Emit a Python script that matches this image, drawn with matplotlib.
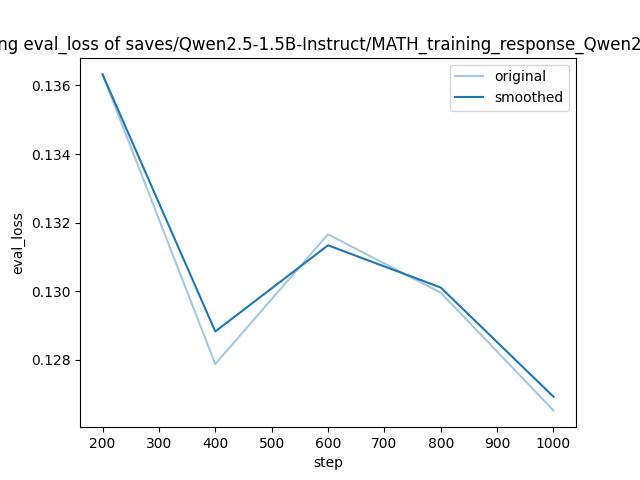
import matplotlib
matplotlib.use("Agg")
import matplotlib.pyplot as plt

steps = [200, 400, 600, 800, 1000]
original = [0.13632, 0.12788, 0.13166, 0.12996, 0.12653]
smoothed = [0.13632, 0.12883, 0.13134, 0.13011, 0.12693]

title = "training eval_loss of saves/Qwen2.5-1.5B-Instruct/MATH_training_response_Qwen2.5-1.5B"

fig = plt.figure(figsize=(6.4, 4.8), dpi=100)
plt.plot(steps, original, color="#1f77b4", alpha=0.4, label="original")
plt.plot(steps, smoothed, color="#1f77b4", label="smoothed")
plt.title(title)
plt.xlabel("step")
plt.ylabel("eval_loss")
plt.legend()
plt.savefig("out.png", dpi=100)
